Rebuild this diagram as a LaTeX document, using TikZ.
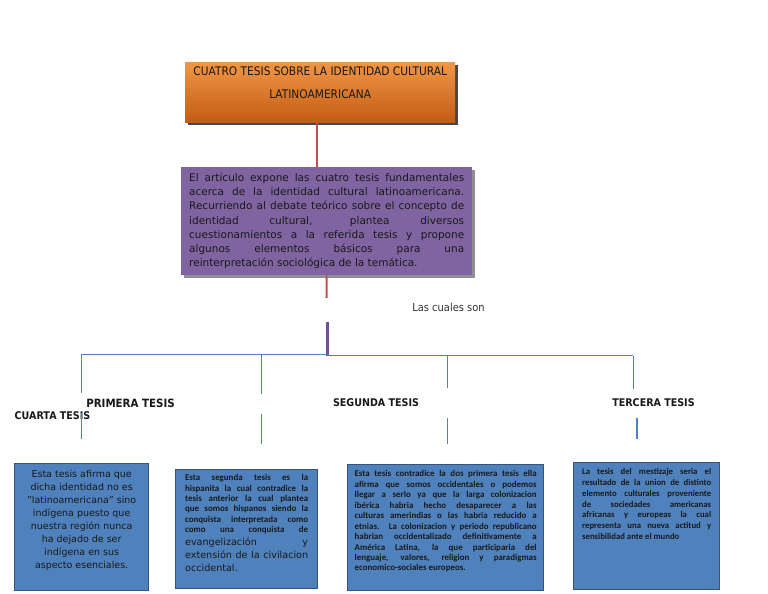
\documentclass[tikz,border=0pt]{standalone}
\usepackage{fontspec}
\setmainfont{DejaVu Sans}
\newfontfamily\condf[FakeStretch=0.9]{DejaVu Sans}
\newfontfamily\carl{Carlito}
\usetikzlibrary{shadows}
\definecolor{orTop}{RGB}{240,150,70}
\definecolor{orBot}{RGB}{196,92,18}
\definecolor{purp}{RGB}{128,100,162}
\definecolor{bluef}{RGB}{79,129,189}
\definecolor{blueb}{RGB}{52,84,124}
\definecolor{redl}{RGB}{192,80,77}
\definecolor{purl}{RGB}{112,80,160}
\definecolor{bluel}{RGB}{79,129,189}
\definecolor{txt}{RGB}{25,25,25}
\tikzset{
  titlebox/.style={anchor=north west, top color=orTop, bottom color=orBot, inner xsep=5pt, inner ysep=5pt, text=txt,
    drop shadow={shadow xshift=3pt, shadow yshift=-3pt, fill=black!80, opacity=.9}},
  purpbox/.style={anchor=north west, fill=purp, inner xsep=8pt, inner ysep=6pt, text=txt,
    drop shadow={shadow xshift=3pt, shadow yshift=-3pt, fill=black!55, opacity=.8}},
  bluebox/.style={anchor=north west, fill=bluef, draw=blueb, line width=1.3pt, text=txt},
  redline/.style={draw=redl, line width=2.4pt},
  purline/.style={draw=purl, line width=3pt},
  blueline/.style={draw=bluel, line width=0.9pt},
  heading/.style={text=txt, inner sep=0pt, font=\condf\bfseries\fontsize{10.6}{12}\selectfont},
  lcsstyle/.style={text=black!80, inner sep=0pt, font=\condf\fontsize{11}{12}\selectfont}
}
\begin{document}
\begin{tikzpicture}[x=1pt,y=-1pt]
\useasboundingbox (0,0) rectangle (768,594);

% title
\node[titlebox] (title) at (185,62) {\parbox[c][50pt][t]{260pt}{\centering\condf\fontsize{11.8}{23}\selectfont CUATRO TESIS SOBRE LA IDENTIDAD CULTURAL\\LATINOAMERICANA}};

% description
\node[purpbox] (desc) at (181,167) {\parbox[c][96pt][t]{275pt}{\fontsize{10.5}{14.2}\selectfont El artículo expone las cuatro tesis fundamentales\linebreak acerca de la identidad cultural latinoamericana.\linebreak Recurriendo al debate teórico sobre el concepto de\linebreak identidad cultural, plantea diversos\linebreak cuestionamientos a la referida tesis y propone\linebreak algunos elementos básicos para una\linebreak reinterpretación sociológica de la temática.}};

\draw[redline] ([xshift=-3pt]title.south) -- ([xshift=-3pt]title.south |- desc.north);

\coordinate (r1) at (326.5,298);
\draw[draw=redl, line width=2pt] (desc.south) -- (r1);

\node[lcsstyle] (lcs) at (448.5,307) {Las cuales son};

\coordinate (p1) at (327.5,322);
\coordinate (p2) at (327.5,356);
\draw[purline] (p1) -- (p2);

% horizontal bar
\coordinate (j1) at (81,354);
\coordinate (jm) at (327.5,354);
\coordinate (jm2) at (327.5,355.5);
\coordinate (j2) at (261,354);
\coordinate (j3) at (447,355.5);
\coordinate (j4) at (633,355.5);
\draw[blueline] (j1) -- (jm);
\draw[blueline] (jm2) -- (j4);

\coordinate (e1) at (81,393);
\coordinate (e2) at (261,394);
\coordinate (e3) at (447,388);
\coordinate (e4) at (633,389);
\draw[blueline] (j1) -- (e1);
\draw[blueline] (j2) -- (e2);
\draw[blueline] (j3) -- (e3);
\draw[blueline] (j4) -- (e4);

% headings
\node[heading, font=\condf\bfseries\fontsize{11.4}{13}\selectfont] (h1) at (130.5,403) {PRIMERA TESIS};
\node[heading] (h2) at (376,403) {SEGUNDA TESIS};
\node[heading] (h3) at (653.5,403) {TERCERA TESIS};
\node[heading] (h4) at (52.5,416) {CUARTA TESIS};

% lower segments
\coordinate (l1a) at (81,413);  \coordinate (l1b) at (81,439);
\coordinate (l2a) at (261,414); \coordinate (l2b) at (261,444);
\coordinate (l3a) at (447,418); \coordinate (l3b) at (447,444);
\coordinate (l4a) at (637,418); \coordinate (l4b) at (637,439);
\draw[blueline] (l1a) -- (l1b);
\draw[blueline] (l2a) -- (l2b);
\draw[blueline] (l3a) -- (l3b);
\draw[blueline, line width=1.4pt] (l4a) -- (l4b);

% bottom boxes
\node[bluebox, inner xsep=8pt, inner ysep=7pt] (b1) at (14,463) {\parbox[c][113pt][t]{118pt}{\centering\fontsize{9.5}{13}\selectfont Esta tesis afirma que\\dicha identidad no es\\"latinoamericana" sino\\indígena puesto que\\nuestra región nunca\\ha dejado de ser\\indígena en sus\\aspecto esenciales.}};

\node[bluebox, inner xsep=9.5pt, inner ysep=5pt] (b2) at (175,469) {\parbox[c][109pt][t]{123pt}{{\carl\bfseries\fontsize{8.9}{10.3}\selectfont\parfillskip=0pt Esta segunda tesis es la\linebreak hispanita la cual contradice la\linebreak tesis anterior la cual plantea\linebreak que somos hispanos siendo la\linebreak conquista interpretada como\linebreak como una conquista de\par}{\fontsize{9.6}{13}\selectfont evangelización y\linebreak extensión de la civilacion\linebreak occidental.\par}}};

\node[bluebox, inner xsep=7pt, inner ysep=6pt] (b3) at (347,464) {\parbox[c][114pt][t]{182pt}{\carl\bfseries\fontsize{8.9}{10.45}\selectfont Esta tesis contradice la dos primera tesis ella\linebreak afirma que somos occidentales o podemos\linebreak llegar a serlo ya que la larga colonizacion\linebreak ibérica habria hecho desaparecer a las\linebreak culturas amerindias o las habria reducido a\linebreak etnias. La colonizacion y periodo republicano\linebreak habrian occidentalizado definitivamente a\linebreak América Latina, la que participaria del\linebreak lenguaje, valores, religion y paradigmas\linebreak economico-sociales europeos.}};

\node[bluebox, inner xsep=8.5pt, inner ysep=6pt] (b4) at (573,462) {\parbox[c][115pt][t]{129pt}{\carl\bfseries\fontsize{8.7}{10.8}\selectfont La tesis del mestizaje seria el\linebreak resultado de la union de distinto\linebreak elemento culturales proveniente\linebreak de sociedades americanas\linebreak africanas y europeas la cual\linebreak representa una nueva actitud y\linebreak sensibilidad ante el mundo}};

\end{tikzpicture}
\end{document}
